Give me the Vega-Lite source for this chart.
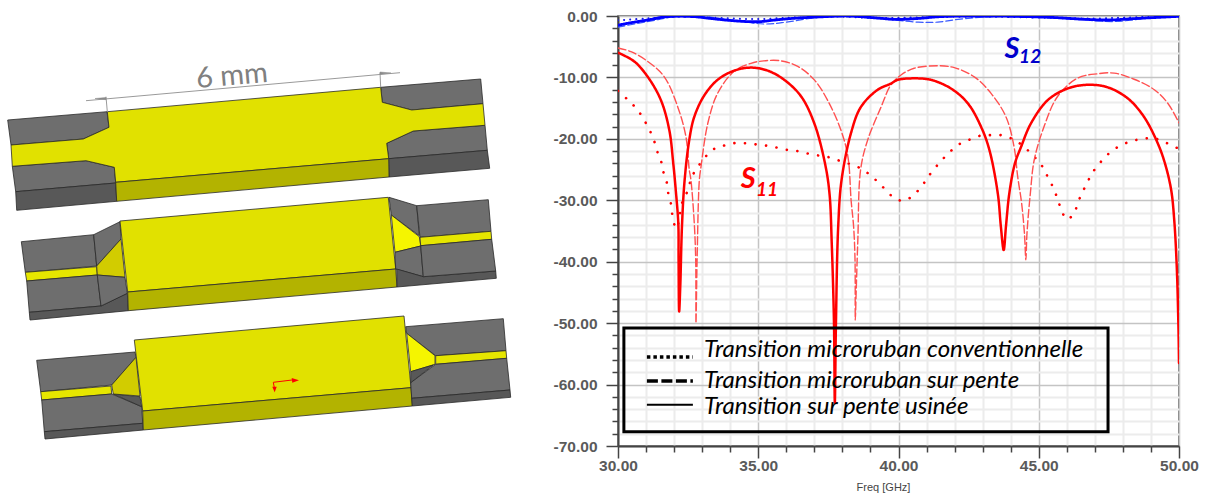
{"$schema":"https://vega.github.io/schema/vega-lite/v6.json","background":"white","padding":{"left":0,"top":8,"right":0,"bottom":0},"spacing":0,"bounds":"full","config":{"concat":{"spacing":0},"axis":{"labelOverlap":false}},
"hconcat":[
{"width":530,"height":483,"view":{"stroke":null},"projection":{"type":"identity","scale":1,"translate":[0,-16]},
"layer":[
{"data":{"values":[
{"type":"Feature","properties":{"part":"gray"},"geometry":{"type":"Polygon","coordinates":[[[7.7,120],[107,111.7],[109,127.3],[83,139],[11,145],[7.7,120]]]}},
{"type":"Feature","properties":{"part":"gray"},"geometry":{"type":"Polygon","coordinates":[[[380.7,87.3],[480.7,79],[483,103.7],[411.7,110],[382.3,102.3],[380.7,87.3]]]}},
{"type":"Feature","properties":{"part":"gray"},"geometry":{"type":"Polygon","coordinates":[[[12.3,166.3],[86,160.7],[114.3,167.3],[115.7,183],[15.7,191.7],[12.3,166.3]]]}},
{"type":"Feature","properties":{"part":"dark"},"geometry":{"type":"Polygon","coordinates":[[[15.7,191.7],[115.7,183],[116.7,201.3],[16.7,210.3],[15.7,191.7]]]}},
{"type":"Feature","properties":{"part":"gray"},"geometry":{"type":"Polygon","coordinates":[[[386.7,143.3],[413.3,131],[485,125.3],[487.3,150.3],[388.7,158.7],[386.7,143.3]]]}},
{"type":"Feature","properties":{"part":"dark"},"geometry":{"type":"Polygon","coordinates":[[[388.7,158.7],[487.3,150.3],[489.7,168.3],[389,177],[388.7,158.7]]]}},
{"type":"Feature","properties":{"part":"yellow"},"geometry":{"type":"Polygon","coordinates":[[[107.3,111.7],[380.7,87.3],[382.3,102.3],[411.7,110],[483,103.7],[485,125.3],[413.3,131],[386.7,143.3],[388.7,158.7],[115.7,182.3],[114.3,167.3],[86,160.7],[12.3,166.3],[11,145],[83.3,139],[109,127.3],[107.3,111.7]]]}},
{"type":"Feature","properties":{"part":"olive"},"geometry":{"type":"Polygon","coordinates":[[[115.7,182.3],[388.7,158.7],[389,177],[116.7,201.3],[115.7,182.3]]]}},
{"type":"Feature","properties":{"part":"gray"},"geometry":{"type":"Polygon","coordinates":[[[21.3,241.7],[93.7,234.7],[96.7,266],[25.3,272.3],[21.3,241.7]]]}},
{"type":"Feature","properties":{"part":"strip"},"geometry":{"type":"Polygon","coordinates":[[[25.3,272.3],[96.7,266.7],[97.3,275],[26.7,281],[25.3,272.3]]]}},
{"type":"Feature","properties":{"part":"gray"},"geometry":{"type":"Polygon","coordinates":[[[26.7,281],[97.3,275],[101,306],[29.3,312.3],[26.7,281]]]}},
{"type":"Feature","properties":{"part":"dark"},"geometry":{"type":"Polygon","coordinates":[[[29.3,312.3],[101,306],[127.3,293.3],[128.3,310.7],[30,320],[29.3,312.3]]]}},
{"type":"Feature","properties":{"part":"gray"},"geometry":{"type":"Polygon","coordinates":[[[93.7,234.7],[120,221.7],[121,239],[96.7,266],[93.7,234.7]]]}},
{"type":"Feature","properties":{"part":"dimyellow"},"geometry":{"type":"Polygon","coordinates":[[[121,239],[125,277.3],[97.3,275],[96.7,266],[121,239]]]}},
{"type":"Feature","properties":{"part":"gray"},"geometry":{"type":"Polygon","coordinates":[[[97.3,275],[125,277.3],[127.3,293.3],[101,306],[97.3,275]]]}},
{"type":"Feature","properties":{"part":"yellow"},"geometry":{"type":"Polygon","coordinates":[[[120,221],[388.3,197.3],[395.7,269],[127.7,292],[120,221]]]}},
{"type":"Feature","properties":{"part":"olive"},"geometry":{"type":"Polygon","coordinates":[[[127.7,292],[395.7,269],[397,287],[128.3,310.7],[127.7,292]]]}},
{"type":"Feature","properties":{"part":"gray"},"geometry":{"type":"Polygon","coordinates":[[[389,197.3],[416.7,205.7],[419.3,235.7],[391.3,215],[389,197.3]]]}},
{"type":"Feature","properties":{"part":"bright"},"geometry":{"type":"Polygon","coordinates":[[[391.3,215],[419.3,236.7],[420.7,246],[395,252.3],[391.3,215]]]}},
{"type":"Feature","properties":{"part":"gray"},"geometry":{"type":"Polygon","coordinates":[[[395,252.3],[420.7,246],[423.3,276.7],[395.7,269],[395,252.3]]]}},
{"type":"Feature","properties":{"part":"dark"},"geometry":{"type":"Polygon","coordinates":[[[396.7,269],[423.3,276.7],[495.7,271],[496.3,278.3],[397,287],[396.7,269]]]}},
{"type":"Feature","properties":{"part":"gray"},"geometry":{"type":"Polygon","coordinates":[[[416.7,205.7],[488.3,199.7],[491,231.3],[420,237.3],[416.7,205.7]]]}},
{"type":"Feature","properties":{"part":"strip"},"geometry":{"type":"Polygon","coordinates":[[[420,237.3],[491,231.3],[491.7,239.3],[420.7,245.7],[420,237.3]]]}},
{"type":"Feature","properties":{"part":"gray"},"geometry":{"type":"Polygon","coordinates":[[[420.7,245.7],[491.7,239.3],[495.7,271],[423.3,276.7],[420.7,245.7]]]}},
{"type":"Feature","properties":{"part":"gray"},"geometry":{"type":"Polygon","coordinates":[[[36.7,360.3],[135,352],[136,357.3],[111.7,385],[40.7,391.7],[36.7,360.3]]]}},
{"type":"Feature","properties":{"part":"strip"},"geometry":{"type":"Polygon","coordinates":[[[40.7,391.7],[111,386],[111.7,394],[41.7,400],[40.7,391.7]]]}},
{"type":"Feature","properties":{"part":"gray"},"geometry":{"type":"Polygon","coordinates":[[[41.7,400],[111.7,394],[141.7,406.7],[142.7,423.3],[44.3,431.7],[41.7,400]]]}},
{"type":"Feature","properties":{"part":"dark"},"geometry":{"type":"Polygon","coordinates":[[[113.3,394],[140,396.7],[141.7,406.7],[113.3,394]]]}},
{"type":"Feature","properties":{"part":"dimyellow"},"geometry":{"type":"Polygon","coordinates":[[[136,357.3],[140,396],[113.3,394],[111.7,385],[136,357.3]]]}},
{"type":"Feature","properties":{"part":"dark"},"geometry":{"type":"Polygon","coordinates":[[[44.3,431.7],[142.7,423.3],[143.3,430],[45,439],[44.3,431.7]]]}},
{"type":"Feature","properties":{"part":"yellow"},"geometry":{"type":"Polygon","coordinates":[[[134.3,340],[404,316],[411,387.7],[142.7,411],[134.3,340]]]}},
{"type":"Feature","properties":{"part":"olive"},"geometry":{"type":"Polygon","coordinates":[[[142.7,411],[411,387.7],[412.3,406],[143.3,430],[142.7,411]]]}},
{"type":"Feature","properties":{"part":"gray"},"geometry":{"type":"Polygon","coordinates":[[[405.7,326.7],[503.3,318.7],[506,350.7],[435.7,355.7],[406.7,333.3],[405.7,326.7]]]}},
{"type":"Feature","properties":{"part":"bright"},"geometry":{"type":"Polygon","coordinates":[[[406.7,333.3],[435,355.7],[435,364.3],[410.7,371.7],[406.7,333.3]]]}},
{"type":"Feature","properties":{"part":"strip"},"geometry":{"type":"Polygon","coordinates":[[[435.7,355.7],[506,350.7],[506.7,358.3],[435.7,364.3],[435.7,355.7]]]}},
{"type":"Feature","properties":{"part":"gray"},"geometry":{"type":"Polygon","coordinates":[[[410.7,382.7],[435.7,364.3],[506.7,358.3],[510,390],[411.7,398.3],[410.7,382.7]]]}},
{"type":"Feature","properties":{"part":"dark"},"geometry":{"type":"Polygon","coordinates":[[[410.7,371.7],[433.3,365],[410.7,382.7],[410.7,371.7]]]}},
{"type":"Feature","properties":{"part":"dark"},"geometry":{"type":"Polygon","coordinates":[[[411.7,398.3],[510,390],[510.7,397.3],[412.3,406],[411.7,398.3]]]}}
]},
"mark":{"type":"geoshape","stroke":"#2a2a2a","strokeWidth":0.8},
"encoding":{"color":{"field":"properties.part","type":"nominal","legend":null,"scale":{"domain":["gray","dark","yellow","olive","strip","dimyellow","bright"],"range":["#6e6e6e","#585858","#e1e100","#b3b300","#e6e600","#d2cc00","#f5f500"]}}}},
{"data":{"values":[
{"type":"Feature","properties":{},"geometry":{"type":"LineString","coordinates":[[86,100.7],[400,72.7]]}},
{"type":"Feature","properties":{},"geometry":{"type":"LineString","coordinates":[[106,96.7],[107.3,111.7]]}},
{"type":"Feature","properties":{},"geometry":{"type":"LineString","coordinates":[[380,72.7],[380.7,87.3]]}}
]},"mark":{"type":"geoshape","filled":false,"stroke":"#9a9a9a","strokeWidth":1}},
{"data":{"values":[
{"type":"Feature","properties":{},"geometry":{"type":"Polygon","coordinates":[[[95,98.5],[106,97.5],[106,99.7],[95,98.5]]]}},
{"type":"Feature","properties":{},"geometry":{"type":"Polygon","coordinates":[[[391,73],[380,72],[380,74.2],[391,73]]]}}
]},"mark":{"type":"geoshape","color":"#8a8a8a","stroke":"#8a8a8a","strokeWidth":0.5}},
{"data":{"values":[
{"type":"Feature","properties":{},"geometry":{"type":"LineString","coordinates":[[292,380],[273.3,382.3],[274.3,387.5]]}}
]},"mark":{"type":"geoshape","filled":false,"stroke":"#ff0000","strokeWidth":1}},
{"data":{"values":[
{"type":"Feature","properties":{},"geometry":{"type":"Polygon","coordinates":[[[291.7,378],[299,380.3],[292.3,382.7],[291.7,378]]]}},
{"type":"Feature","properties":{},"geometry":{"type":"Polygon","coordinates":[[[272.3,386.7],[276.7,386.7],[274.7,392.3],[272.3,386.7]]]}}
]},"mark":{"type":"geoshape","color":"#ff0000"}},
{"data":{"values":[{"lon":232,"lat":76,"label":"6 mm"}]},"mark":{"type":"text","font":"Lato","fontSize":29,"angle":355,"color":"#808080","align":"center","baseline":"middle"},
"encoding":{"longitude":{"field":"lon","type":"quantitative"},"latitude":{"field":"lat","type":"quantitative"},"text":{"field":"label"}}}
]},
{"width":561,"height":430,"view":{"stroke":"#555555","strokeWidth":1.5},
"layer":[
{"data":{"values":[
{"trace":"S11 conv","f":30,"db":-12.2},{"trace":"S11 conv","f":30.34,"db":-13.6},{"trace":"S11 conv","f":30.7,"db":-15.3},{"trace":"S11 conv","f":30.94,"db":-17},{"trace":"S11 conv","f":31.15,"db":-18.8},{"trace":"S11 conv","f":31.3,"db":-20.5},{"trace":"S11 conv","f":31.41,"db":-22.2},{"trace":"S11 conv","f":31.56,"db":-24},{"trace":"S11 conv","f":31.63,"db":-25.6},{"trace":"S11 conv","f":31.75,"db":-27.3},{"trace":"S11 conv","f":31.8,"db":-29.1},{"trace":"S11 conv","f":31.9,"db":-30.8},{"trace":"S11 conv","f":31.94,"db":-32.5},{"trace":"S11 conv","f":32.03,"db":-34.2},{"trace":"S11 conv","f":32.1,"db":-34.6},{"trace":"S11 conv","f":32.17,"db":-33.2},{"trace":"S11 conv","f":32.3,"db":-30.2},{"trace":"S11 conv","f":32.5,"db":-28.3},{"trace":"S11 conv","f":32.6,"db":-26.6},{"trace":"S11 conv","f":32.78,"db":-25},{"trace":"S11 conv","f":33.37,"db":-21.8},{"trace":"S11 conv","f":33.77,"db":-21.1},{"trace":"S11 conv","f":34.14,"db":-20.7},{"trace":"S11 conv","f":34.5,"db":-20.7},{"trace":"S11 conv","f":34.9,"db":-20.9},{"trace":"S11 conv","f":35.28,"db":-21.1},{"trace":"S11 conv","f":35.64,"db":-21.4},{"trace":"S11 conv","f":36.03,"db":-21.8},{"trace":"S11 conv","f":36.41,"db":-22},{"trace":"S11 conv","f":36.78,"db":-22.4},{"trace":"S11 conv","f":37.14,"db":-22.7},{"trace":"S11 conv","f":37.53,"db":-23},{"trace":"S11 conv","f":37.92,"db":-23.6},{"trace":"S11 conv","f":38.27,"db":-24.1},{"trace":"S11 conv","f":38.65,"db":-24.8},{"trace":"S11 conv","f":39.02,"db":-26},{"trace":"S11 conv","f":39.41,"db":-27.7},{"trace":"S11 conv","f":39.79,"db":-29.4},{"trace":"S11 conv","f":40.15,"db":-30.1},{"trace":"S11 conv","f":40.5,"db":-29.3},{"trace":"S11 conv","f":40.86,"db":-27.5},{"trace":"S11 conv","f":41.1,"db":-25.9},{"trace":"S11 conv","f":41.42,"db":-24.1},{"trace":"S11 conv","f":41.75,"db":-22.5},{"trace":"S11 conv","f":42.12,"db":-21},{"trace":"S11 conv","f":42.5,"db":-20.2},{"trace":"S11 conv","f":42.9,"db":-19.5},{"trace":"S11 conv","f":43.25,"db":-19.4},{"trace":"S11 conv","f":43.65,"db":-19.4},{"trace":"S11 conv","f":44.05,"db":-20},{"trace":"S11 conv","f":44.4,"db":-21},{"trace":"S11 conv","f":44.77,"db":-22.6},{"trace":"S11 conv","f":45.1,"db":-24.3},{"trace":"S11 conv","f":45.3,"db":-26},{"trace":"S11 conv","f":45.5,"db":-27.8},{"trace":"S11 conv","f":45.65,"db":-29.5},{"trace":"S11 conv","f":45.78,"db":-31.2},{"trace":"S11 conv","f":46,"db":-33.1},{"trace":"S11 conv","f":46.26,"db":-32.1},{"trace":"S11 conv","f":46.4,"db":-30.3},{"trace":"S11 conv","f":46.56,"db":-28.7},{"trace":"S11 conv","f":46.74,"db":-27},{"trace":"S11 conv","f":46.96,"db":-25.2},{"trace":"S11 conv","f":47.26,"db":-23.5},{"trace":"S11 conv","f":47.6,"db":-22},{"trace":"S11 conv","f":48,"db":-20.9},{"trace":"S11 conv","f":48.37,"db":-20.3},{"trace":"S11 conv","f":48.7,"db":-20},{"trace":"S11 conv","f":49.1,"db":-19.9},{"trace":"S11 conv","f":49.47,"db":-20.5},{"trace":"S11 conv","f":49.84,"db":-21.3},{"trace":"S11 conv","f":50,"db":-21.6},
{"trace":"S11 pente","f":30,"db":-5.2},{"trace":"S11 pente","f":30.46,"db":-5.8},{"trace":"S11 pente","f":31.06,"db":-7.4},{"trace":"S11 pente","f":31.65,"db":-9.9},{"trace":"S11 pente","f":32.13,"db":-14.8},{"trace":"S11 pente","f":32.42,"db":-19.6},{"trace":"S11 pente","f":32.54,"db":-25},{"trace":"S11 pente","f":32.6,"db":-26.7},{"trace":"S11 pente","f":32.72,"db":-33.8},{"trace":"S11 pente","f":32.77,"db":-39.7},{"trace":"S11 pente","f":32.78,"db":-50},{"trace":"S11 pente","f":32.82,"db":-39.7},{"trace":"S11 pente","f":32.9,"db":-26.7},{"trace":"S11 pente","f":32.96,"db":-24.5},{"trace":"S11 pente","f":33.2,"db":-17.5},{"trace":"S11 pente","f":33.55,"db":-12.6},{"trace":"S11 pente","f":34.14,"db":-9},{"trace":"S11 pente","f":34.74,"db":-7.7},{"trace":"S11 pente","f":35.2,"db":-7.3},{"trace":"S11 pente","f":35.81,"db":-7.3},{"trace":"S11 pente","f":36.41,"db":-8.2},{"trace":"S11 pente","f":37,"db":-10.4},{"trace":"S11 pente","f":37.47,"db":-13.7},{"trace":"S11 pente","f":37.95,"db":-18.6},{"trace":"S11 pente","f":38.2,"db":-23},{"trace":"S11 pente","f":38.31,"db":-30},{"trace":"S11 pente","f":38.4,"db":-34.3},{"trace":"S11 pente","f":38.45,"db":-39.7},{"trace":"S11 pente","f":38.46,"db":-49.5},{"trace":"S11 pente","f":38.49,"db":-45},{"trace":"S11 pente","f":38.55,"db":-36.5},{"trace":"S11 pente","f":38.65,"db":-25},{"trace":"S11 pente","f":38.9,"db":-20.2},{"trace":"S11 pente","f":39.38,"db":-14.8},{"trace":"S11 pente","f":39.73,"db":-11.2},{"trace":"S11 pente","f":40.09,"db":-9.6},{"trace":"S11 pente","f":40.56,"db":-8.5},{"trace":"S11 pente","f":41.4,"db":-8.1},{"trace":"S11 pente","f":41.99,"db":-8.4},{"trace":"S11 pente","f":42.7,"db":-9.9},{"trace":"S11 pente","f":43.3,"db":-12.6},{"trace":"S11 pente","f":43.83,"db":-16.4},{"trace":"S11 pente","f":44.12,"db":-21.3},{"trace":"S11 pente","f":44.25,"db":-26.2},{"trace":"S11 pente","f":44.39,"db":-30.5},{"trace":"S11 pente","f":44.49,"db":-35.4},{"trace":"S11 pente","f":44.54,"db":-39.7},{"trace":"S11 pente","f":44.58,"db":-35.4},{"trace":"S11 pente","f":44.7,"db":-28.9},{"trace":"S11 pente","f":44.84,"db":-23.4},{"trace":"S11 pente","f":45.19,"db":-18},{"trace":"S11 pente","f":45.67,"db":-13.1},{"trace":"S11 pente","f":46.39,"db":-10.1},{"trace":"S11 pente","f":47.1,"db":-9.4},{"trace":"S11 pente","f":47.69,"db":-9.3},{"trace":"S11 pente","f":48.4,"db":-10.3},{"trace":"S11 pente","f":49.12,"db":-12},{"trace":"S11 pente","f":49.6,"db":-14.2},{"trace":"S11 pente","f":50,"db":-17.4},
{"trace":"S11 usinee","f":30,"db":-5.97},{"trace":"S11 usinee","f":30.58,"db":-7.4},{"trace":"S11 usinee","f":31.06,"db":-9.9},{"trace":"S11 usinee","f":31.53,"db":-13.7},{"trace":"S11 usinee","f":31.83,"db":-18.6},{"trace":"S11 usinee","f":31.97,"db":-24},{"trace":"S11 usinee","f":32.07,"db":-28.9},{"trace":"S11 usinee","f":32.15,"db":-33.8},{"trace":"S11 usinee","f":32.16,"db":-39.7},{"trace":"S11 usinee","f":32.18,"db":-48.1},{"trace":"S11 usinee","f":32.22,"db":-44},{"trace":"S11 usinee","f":32.28,"db":-34.3},{"trace":"S11 usinee","f":32.37,"db":-27},{"trace":"S11 usinee","f":32.54,"db":-20.2},{"trace":"S11 usinee","f":32.72,"db":-16.4},{"trace":"S11 usinee","f":33.08,"db":-12.9},{"trace":"S11 usinee","f":33.55,"db":-10.4},{"trace":"S11 usinee","f":34.14,"db":-8.9},{"trace":"S11 usinee","f":34.74,"db":-8.4},{"trace":"S11 usinee","f":35.34,"db":-8.9},{"trace":"S11 usinee","f":35.93,"db":-10.4},{"trace":"S11 usinee","f":36.53,"db":-13.1},{"trace":"S11 usinee","f":37,"db":-17.5},{"trace":"S11 usinee","f":37.38,"db":-24},{"trace":"S11 usinee","f":37.54,"db":-28.9},{"trace":"S11 usinee","f":37.62,"db":-37},{"trace":"S11 usinee","f":37.7,"db":-50},{"trace":"S11 usinee","f":37.73,"db":-63},{"trace":"S11 usinee","f":37.77,"db":-50},{"trace":"S11 usinee","f":37.85,"db":-34.3},{"trace":"S11 usinee","f":37.97,"db":-26.7},{"trace":"S11 usinee","f":38.31,"db":-19},{"trace":"S11 usinee","f":38.66,"db":-14.8},{"trace":"S11 usinee","f":39.26,"db":-12},{"trace":"S11 usinee","f":39.73,"db":-11},{"trace":"S11 usinee","f":39.97,"db":-10.4},{"trace":"S11 usinee","f":40.56,"db":-10.15},{"trace":"S11 usinee","f":41.16,"db":-10.4},{"trace":"S11 usinee","f":41.87,"db":-11.8},{"trace":"S11 usinee","f":42.47,"db":-14.2},{"trace":"S11 usinee","f":42.94,"db":-18},{"trace":"S11 usinee","f":43.24,"db":-21.8},{"trace":"S11 usinee","f":43.54,"db":-28.9},{"trace":"S11 usinee","f":43.65,"db":-34.3},{"trace":"S11 usinee","f":43.75,"db":-38.1},{"trace":"S11 usinee","f":43.83,"db":-34.3},{"trace":"S11 usinee","f":43.95,"db":-28.9},{"trace":"S11 usinee","f":44.15,"db":-24},{"trace":"S11 usinee","f":44.37,"db":-21.3},{"trace":"S11 usinee","f":44.72,"db":-17.5},{"trace":"S11 usinee","f":45.32,"db":-13.7},{"trace":"S11 usinee","f":46.03,"db":-11.8},{"trace":"S11 usinee","f":46.74,"db":-11.2},{"trace":"S11 usinee","f":47.45,"db":-11.6},{"trace":"S11 usinee","f":48.17,"db":-13.4},{"trace":"S11 usinee","f":48.75,"db":-16.4},{"trace":"S11 usinee","f":49.24,"db":-20.7},{"trace":"S11 usinee","f":49.5,"db":-24},{"trace":"S11 usinee","f":49.72,"db":-28.3},{"trace":"S11 usinee","f":49.83,"db":-33.2},{"trace":"S11 usinee","f":49.92,"db":-40.8},{"trace":"S11 usinee","f":49.98,"db":-50.6},{"trace":"S11 usinee","f":50,"db":-56.5},
{"trace":"S12 conv","f":30,"db":-0.7},{"trace":"S12 conv","f":31,"db":-0.4},{"trace":"S12 conv","f":32,"db":-0.15},{"trace":"S12 conv","f":33,"db":-0.2},{"trace":"S12 conv","f":34,"db":-0.4},{"trace":"S12 conv","f":35,"db":-0.5},{"trace":"S12 conv","f":36,"db":-0.3},{"trace":"S12 conv","f":37,"db":-0.2},{"trace":"S12 conv","f":38,"db":-0.1},{"trace":"S12 conv","f":39,"db":-0.3},{"trace":"S12 conv","f":40,"db":-0.3},{"trace":"S12 conv","f":41,"db":-0.2},{"trace":"S12 conv","f":43,"db":-0.1},{"trace":"S12 conv","f":45,"db":-0.25},{"trace":"S12 conv","f":47,"db":-0.4},{"trace":"S12 conv","f":48.5,"db":-0.2},{"trace":"S12 conv","f":50,"db":-0.1},
{"trace":"S12 pente","f":30,"db":-1.8},{"trace":"S12 pente","f":30.6,"db":-1.3},{"trace":"S12 pente","f":31.2,"db":-0.8},{"trace":"S12 pente","f":31.9,"db":-0.2},{"trace":"S12 pente","f":33,"db":-0.1},{"trace":"S12 pente","f":34,"db":-0.6},{"trace":"S12 pente","f":35.2,"db":-1.3},{"trace":"S12 pente","f":36,"db":-1},{"trace":"S12 pente","f":37,"db":-0.3},{"trace":"S12 pente","f":38.2,"db":-0.1},{"trace":"S12 pente","f":39.5,"db":-0.5},{"trace":"S12 pente","f":40.7,"db":-1},{"trace":"S12 pente","f":41.4,"db":-1},{"trace":"S12 pente","f":42.2,"db":-0.5},{"trace":"S12 pente","f":43.5,"db":-0.1},{"trace":"S12 pente","f":45,"db":-0.2},{"trace":"S12 pente","f":46.5,"db":-0.6},{"trace":"S12 pente","f":47.7,"db":-0.9},{"trace":"S12 pente","f":49,"db":-0.3},{"trace":"S12 pente","f":50,"db":-0.1},
{"trace":"S12 usinee","f":30,"db":-1.5},{"trace":"S12 usinee","f":30.46,"db":-1.1},{"trace":"S12 usinee","f":31.06,"db":-0.65},{"trace":"S12 usinee","f":31.76,"db":-0.1},{"trace":"S12 usinee","f":32.7,"db":-0.1},{"trace":"S12 usinee","f":33.3,"db":-0.4},{"trace":"S12 usinee","f":34.2,"db":-0.8},{"trace":"S12 usinee","f":35,"db":-0.93},{"trace":"S12 usinee","f":35.6,"db":-0.65},{"trace":"S12 usinee","f":36.2,"db":-0.4},{"trace":"S12 usinee","f":37.4,"db":-0.1},{"trace":"S12 usinee","f":38.2,"db":0},{"trace":"S12 usinee","f":39.3,"db":-0.35},{"trace":"S12 usinee","f":39.9,"db":-0.55},{"trace":"S12 usinee","f":40.7,"db":-0.4},{"trace":"S12 usinee","f":41.5,"db":-0.1},{"trace":"S12 usinee","f":43,"db":0},{"trace":"S12 usinee","f":45.3,"db":-0.2},{"trace":"S12 usinee","f":46.7,"db":-0.55},{"trace":"S12 usinee","f":47.5,"db":-0.65},{"trace":"S12 usinee","f":48.5,"db":-0.4},{"trace":"S12 usinee","f":50,"db":-0.05}
]},
"mark":{"type":"line","strokeCap":"round","clip":true,"interpolate":"catmull-rom"},
"encoding":{
"x":{"field":"f","type":"quantitative","scale":{"domain":[30,50],"nice":false,"zero":false},
"axis":{"tickCount":100,"values":[30,31,32,33,34,35,36,37,38,39,40,41,42,43,44,45,46,47,48,49,50],"labelExpr":"datum.value % 5 === 0 ? format(datum.value,'.2f') : ''","title":"Freq [GHz]","titleFont":"Liberation Sans","titleFontSize":11,"titleFontWeight":"normal","titleColor":"#444444","titleX":265,"titleY":35,"labelFont":"Liberation Sans","labelFontSize":15.5,"labelFontWeight":"bold","labelColor":"#5a5a5a","labelPadding":0,"labelOverlap":false,"labelFlush":false,"domainColor":"#444444","domainWidth":2,"tickColor":"#444444","tickWidth":1.5,"tickSize":{"condition":{"test":"datum.value % 5 === 0","value":12},"value":6},"gridColor":{"condition":{"test":"datum.value % 5 === 0","value":"#c4c4c4"},"value":"#ececec"},"gridWidth":{"condition":{"test":"datum.value % 5 === 0","value":1.5},"value":2}}},
"y":{"field":"db","type":"quantitative","scale":{"domain":[-70,0],"nice":false,"zero":false},
"axis":{"tickCount":100,"values":[0,-2,-4,-6,-8,-10,-12,-14,-16,-18,-20,-22,-24,-26,-28,-30,-32,-34,-36,-38,-40,-42,-44,-46,-48,-50,-52,-54,-56,-58,-60,-62,-64,-66,-68,-70],"labelExpr":"datum.value % 10 === 0 ? replace(format(datum.value,'.2f'),'−','-') : ''","title":null,"labelFont":"Liberation Sans","labelFontSize":15.5,"labelFontWeight":"bold","labelColor":"#5a5a5a","labelPadding":9,"labelOverlap":false,"minExtent":87,"maxExtent":87,"domainColor":"#444444","domainWidth":2,"tickColor":"#444444","tickWidth":1.5,"tickSize":{"condition":{"test":"datum.value % 10 === 0","value":12},"value":6},"gridColor":{"condition":{"test":"datum.value % 10 === 0","value":"#c4c4c4"},"value":"#ececec"},"gridWidth":{"condition":{"test":"datum.value % 10 === 0","value":1.5},"value":2}}},
"detail":{"field":"trace"},
"color":{"field":"trace","type":"nominal","legend":null,"scale":{"domain":["S11 conv","S11 pente","S11 usinee","S12 conv","S12 pente","S12 usinee"],"range":["#ff0000","#ff5050","#ff0000","#1a1ae6","#3a5aff","#0000ff"]}},
"strokeDash":{"field":"trace","type":"nominal","legend":null,"scale":{"domain":["S11 conv","S11 pente","S11 usinee","S12 conv","S12 pente","S12 usinee"],"range":[[0.1,10.5],[8,3],[1,0],[0.1,6],[7,3],[1,0]]}},
"strokeWidth":{"field":"trace","type":"nominal","legend":null,"scale":{"type":"ordinal","domain":["S11 conv","S11 pente","S11 usinee","S12 conv","S12 pente","S12 usinee"],"range":[2.6,1.4,2.5,2,1.2,2.8]}}
}},
{"data":{"values":[{"x1":30.21,"x2":47.47,"y1":-50.8,"y2":-67.7}]},"mark":{"type":"rect","fill":null,"stroke":"#000000","strokeWidth":3},
"encoding":{"x":{"field":"x1","type":"quantitative"},"x2":{"field":"x2"},"y":{"field":"y1","type":"quantitative"},"y2":{"field":"y2"}}},
{"data":{"values":[{"k":"a","x":31.03,"y":-55.5},{"k":"a","x":32.67,"y":-55.5}]},"mark":{"type":"line","color":"#000000","strokeWidth":3.5,"strokeDash":[3.5,3]},"encoding":{"x":{"field":"x","type":"quantitative"},"y":{"field":"y","type":"quantitative"}}},
{"data":{"values":[{"k":"b","x":31.03,"y":-59.4},{"k":"b","x":32.67,"y":-59.4}]},"mark":{"type":"line","color":"#000000","strokeWidth":3.5,"strokeDash":[11,3.5]},"encoding":{"x":{"field":"x","type":"quantitative"},"y":{"field":"y","type":"quantitative"}}},
{"data":{"values":[{"k":"c","x":31.03,"y":-63.3},{"k":"c","x":32.67,"y":-63.3}]},"mark":{"type":"line","color":"#000000","strokeWidth":2},"encoding":{"x":{"field":"x","type":"quantitative"},"y":{"field":"y","type":"quantitative"}}},
{"data":{"values":[{"x":33.07,"y":-54.4,"t":"Transition microruban conventionnelle"},{"x":33.07,"y":-59.4,"t":"Transition microruban sur pente"},{"x":33.07,"y":-63.65,"t":"Transition sur pente usinée"}]},"mark":{"type":"text","font":"Lato","fontStyle":"italic","fontSize":24,"align":"left","baseline":"middle","color":"#000000"},
"encoding":{"x":{"field":"x","type":"quantitative"},"y":{"field":"y","type":"quantitative"},"text":{"field":"t"}}},
{"data":{"values":[{"x":34.38,"y":-28,"t":"S","c":"S11"},{"x":43.78,"y":-6.84,"t":"S","c":"S12"}]},"mark":{"type":"text","font":"Lato","fontStyle":"italic","fontWeight":"bold","fontSize":29,"align":"left","baseline":"alphabetic"},
"encoding":{"x":{"field":"x","type":"quantitative"},"y":{"field":"y","type":"quantitative"},"text":{"field":"t"},"color":{"field":"c","type":"nominal","legend":null,"scale":{"domain":["S11","S12"],"range":["#ff0000","#0000cc"]}}}},
{"data":{"values":[{"x":34.92,"y":-29.3,"t":"11","c":"S11"},{"x":44.3,"y":-7.7,"t":"12","c":"S12"}]},"mark":{"type":"text","font":"Lato","fontStyle":"italic","fontWeight":"bold","fontSize":19,"align":"left","baseline":"alphabetic"},
"encoding":{"x":{"field":"x","type":"quantitative"},"y":{"field":"y","type":"quantitative"},"text":{"field":"t"},"color":{"field":"c","type":"nominal","legend":null,"scale":{"domain":["S11","S12"],"range":["#ff0000","#0000cc"]}}}}
],"resolve":{"scale":{"color":"independent"}}}
]}
